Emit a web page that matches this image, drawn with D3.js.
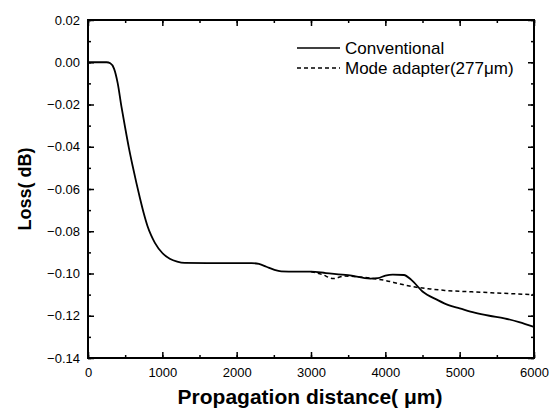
<!DOCTYPE html>
<html>
<head>
<meta charset="utf-8">
<script src="https://cdn.jsdelivr.net/npm/d3@7"></script>
<style>
  body { margin: 0; background: #fff; }
  text { font-family: "Liberation Sans", Arial, sans-serif; fill: #000; }
</style>
</head>
<body>
<div id="chart"></div>
<script>
// Conventional taper (solid)
var convDist = [0, 150, 250, 300, 350, 400, 450, 500, 550, 600, 650, 700, 750, 800, 850, 900, 1000, 1100, 1200, 1300, 1600, 2000, 2200, 2300, 2400, 2500, 2600, 2800, 3000, 3200, 3500, 3800, 3900, 4000, 4100, 4250, 4350, 4500, 4700, 4850, 5000, 5200, 5400, 5600, 5800, 6000];
var convLoss = [0, 0, 0, -0.0005, -0.003, -0.010, -0.021, -0.031, -0.0405, -0.049, -0.057, -0.0645, -0.0715, -0.0775, -0.0820, -0.0855, -0.0903, -0.0930, -0.0944, -0.0950, -0.0951, -0.0951, -0.0951, -0.0955, -0.0968, -0.0982, -0.0990, -0.0991, -0.0991, -0.0998, -0.1008, -0.1024, -0.1022, -0.1010, -0.1005, -0.1007, -0.1030, -0.1085, -0.1125, -0.1150, -0.1165, -0.1185, -0.1200, -0.1212, -0.1230, -0.1253];

// Mode adapter 277um (dashed), overlaps the solid before ~3000
var adaptDist = [3000, 3150, 3300, 3450, 3600, 3800, 4000, 4200, 4400, 4600, 4800, 5000, 5300, 5600, 6000];
var adaptLoss = [-0.0991, -0.1005, -0.1024, -0.1012, -0.1015, -0.1022, -0.1033, -0.1050, -0.1064, -0.1073, -0.1080, -0.1084, -0.1089, -0.1094, -0.1100];

var xTicks = [0, 1000, 2000, 3000, 4000, 5000, 6000];
var yTicks = [0.02, 0, -0.02, -0.04, -0.06, -0.08, -0.10, -0.12, -0.14];
var legendLabels = ["Conventional", "Mode adapter(277\u03bcm)"];

var margin = { top: 20, right: 24, bottom: 59, left: 88 },
  width = 558 - margin.left - margin.right,
  height = 417 - margin.top - margin.bottom;

var svg = d3.select("#chart").append("svg")
  .attr("width", 558)
  .attr("height", 417)
  .append("g")
  .attr("transform", "translate(" + margin.left + "," + margin.top + ")");

var x = d3.scaleLinear().domain([0, 6000]).range([0, width]);
var y = d3.scaleLinear().domain([-0.14, 0.02]).range([height, 0]);

var xMinor = d3.range(0, 6001, 500);
var yMinor = d3.range(-0.14, 0.0201, 0.01);

// minor ticks (all four sides, inward)
function minorAxis(axis, vals, size) {
  return axis.tickValues(vals).tickSize(size).tickFormat("");
}
svg.append("g").attr("transform", "translate(0," + height + ")")
  .call(minorAxis(d3.axisBottom(x), xMinor, -3));
svg.append("g")
  .call(minorAxis(d3.axisTop(x), xMinor, -3));
svg.append("g")
  .call(minorAxis(d3.axisLeft(y), yMinor, -3));
svg.append("g").attr("transform", "translate(" + width + ",0)")
  .call(minorAxis(d3.axisRight(y), yMinor, -3));

// major ticks
var xAxis = svg.append("g").attr("transform", "translate(0," + height + ")")
  .call(d3.axisBottom(x).tickValues(xTicks).tickSize(-6).tickPadding(9.5).tickFormat(d3.format("d")));
var yAxis = svg.append("g")
  .call(d3.axisLeft(y).tickValues(yTicks).tickSize(-6).tickPadding(8).tickFormat(d3.format(".2f")));
svg.append("g")
  .call(d3.axisTop(x).tickValues(xTicks).tickSize(-6).tickFormat(""));
svg.append("g").attr("transform", "translate(" + width + ",0)")
  .call(d3.axisRight(y).tickValues(yTicks).tickSize(-6).tickFormat(""));

svg.selectAll(".domain").remove();
svg.selectAll(".tick line").attr("stroke", "#000").attr("stroke-width", 1.5);
svg.selectAll(".tick text").style("font-size", "13px").attr("fill", "#000");

// frame
svg.append("rect")
  .attr("width", width).attr("height", height)
  .attr("fill", "none").attr("stroke", "#000").attr("stroke-width", 2);

var line = d3.line()
  .x(function (d) { return x(d[0]); })
  .y(function (d) { return y(d[1]); })
  .curve(d3.curveMonotoneX);

svg.append("path")
  .datum(d3.zip(adaptDist, adaptLoss))
  .attr("fill", "none").attr("stroke", "#000")
  .attr("stroke-width", 1.5).attr("stroke-dasharray", "4,3")
  .attr("d", line);

svg.append("path")
  .datum(d3.zip(convDist, convLoss))
  .attr("fill", "none").attr("stroke", "#000")
  .attr("stroke-width", 1.8)
  .attr("d", line);

// legend
var legend = svg.append("g").attr("transform", "translate(209,28)");
legendLabels.forEach(function (lab, i) {
  legend.append("line")
    .attr("x1", 0).attr("x2", 43)
    .attr("y1", i * 20).attr("y2", i * 20)
    .attr("stroke", "#000").attr("stroke-width", i === 0 ? 1.5 : 1.3)
    .attr("stroke-dasharray", i === 0 ? null : "4,3");
  legend.append("text")
    .attr("x", 48).attr("y", i * 20)
    .attr("dy", "0.35em")
    .style("font-size", "17px")
    .text(lab);
});

// axis titles
svg.append("text")
  .attr("text-anchor", "middle")
  .attr("x", width / 2 - 1)
  .attr("y", height + 46)
  .style("font-size", "21px")
  .style("font-weight", "bold")
  .text("Propagation distance( \u03bcm)");

svg.append("text")
  .attr("text-anchor", "middle")
  .attr("transform", "rotate(-90)")
  .attr("x", -(189 - margin.top))
  .attr("y", -margin.left + 31)
  .style("font-size", "18px")
  .style("font-weight", "bold")
  .text("Loss( dB)");
</script>
</body>
</html>
